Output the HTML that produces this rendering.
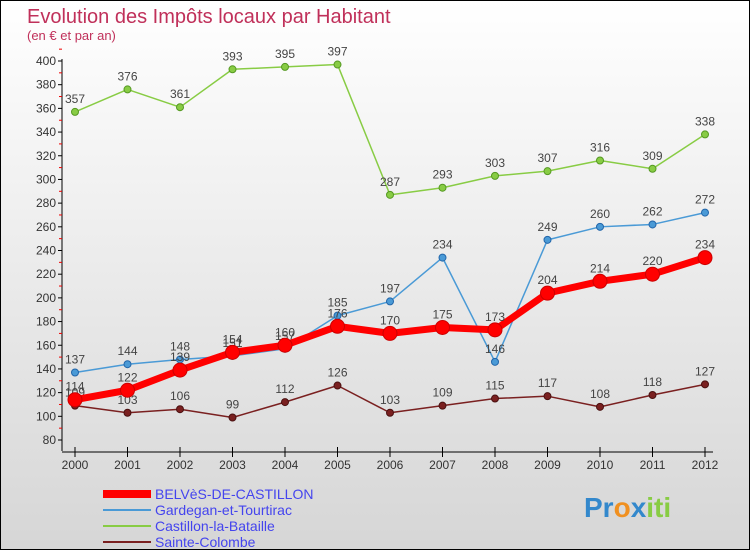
<!DOCTYPE html>
<html><head><meta charset="utf-8"><style>
body{margin:0}
#c{width:748px;height:548px;border:1px solid #000;position:relative;background:linear-gradient(#ffffff,#d6d6d6);font-family:"Liberation Sans",sans-serif;overflow:hidden}
</style></head><body>
<div id="c">
<svg width="748" height="548" id="svg"></svg>
</div>
<script>
const years=[2000,2001,2002,2003,2004,2005,2006,2007,2008,2009,2010,2011,2012];
const belves=[114,122,139,154,160,176,170,175,173,204,214,220,234];
const gardegan=[137,144,148,151,157,185,197,234,146,249,260,262,272];
const castillon=[357,376,361,393,395,397,287,293,303,307,316,309,338];
const colombe=[109,103,106,99,112,126,103,109,115,117,108,118,127];
const yTicks=[80,100,120,140,160,180,200,220,240,260,280,300,320,340,360,380,400];
const NS='http://www.w3.org/2000/svg';
const svg=document.getElementById('svg');
const X=i=>74+i*52.5, Y=v=>439-(v-80)*379/320;
function mk(t,a,p){const e=document.createElementNS(NS,t);for(const k in a)e.setAttribute(k,a[k]);(p||svg).appendChild(e);return e;}
let t=mk('text',{x:26,y:22,'font-size':20,fill:'#c0305a'});t.textContent='Evolution des Impôts locaux par Habitant';

t=mk('text',{x:26,y:39,'font-size':13,fill:'#c0305a'});t.textContent='(en € et par an)';

let ax=mk('line',{x1:61,y1:58,x2:61,y2:450,stroke:'#000'});

yTicks.forEach(v=>{mk('line',{x1:57,x2:61,y1:Y(v),y2:Y(v),stroke:'#000'});
 mk('line',{x1:58,x2:61,y1:Y(v+10),y2:Y(v+10),stroke:'#e00'});
 const l=mk('text',{x:55,y:Y(v)+4,'font-size':12,fill:'#333','text-anchor':'end'});l.textContent=v;
 });
ax=mk('line',{x1:61,y1:451,x2:712,y2:451,stroke:'#000'});

years.forEach((y,i)=>{mk('line',{x1:X(i),x2:X(i),y1:446,y2:456,stroke:'#000'});
 const l=mk('text',{x:X(i),y:468,'font-size':12,fill:'#333','text-anchor':'middle'});l.textContent=y;
 });
function series(d,col,w,r,name,dark){
 const g=mk('g',{});
 mk('polyline',{points:d.map((v,i)=>X(i)+','+Y(v)).join(' '),fill:'none',stroke:col,'stroke-width':w,'stroke-linejoin':'round'},g);
 d.forEach((v,i)=>{const c=mk('circle',{cx:X(i),cy:Y(v),r:r,fill:col,stroke:dark,'stroke-width':1},g);
  
  const l=mk('text',{x:X(i),y:Y(v)-9,'font-size':12,fill:'#444','text-anchor':'middle'},g);l.textContent=v;});
}
series(castillon,'#88cc44',1.5,3.5,'castillon-series','#559922');
series(gardegan,'#4a9ad6',1.5,3.5,'gardegan-series','#2266aa');
series(colombe,'#7a2020',1.5,3.5,'colombe-series','#4a1010');
series(belves,'#ff0000',7,7,'belves-series','#cc0000');
const leg=[['BELVèS-DE-CASTILLON','#ff0000',8],['Gardegan-et-Tourtirac','#4a9ad6',2],['Castillon-la-Bataille','#88cc44',2],['Sainte-Colombe','#7a2020',2]];
leg.forEach((l,i)=>{const y=493+i*16;const g=mk('g',{});
 mk('line',{x1:102,x2:150,y1:y,y2:y,stroke:l[1],'stroke-width':l[2]},g);
 const tx=mk('text',{x:154,y:y+5,'font-size':14,fill:'#4444ee'},g);tx.textContent=l[0];});
const lg=mk('text',{x:583,y:516,'font-size':28,'font-weight':'bold',fill:'#f09020'});
lg.innerHTML='<tspan fill="#3388cc">Pr</tspan><tspan fill="#f09020">o</tspan><tspan fill="#3388cc">x</tspan><tspan fill="#88cc44">iti</tspan>';

</script>
</body></html>
